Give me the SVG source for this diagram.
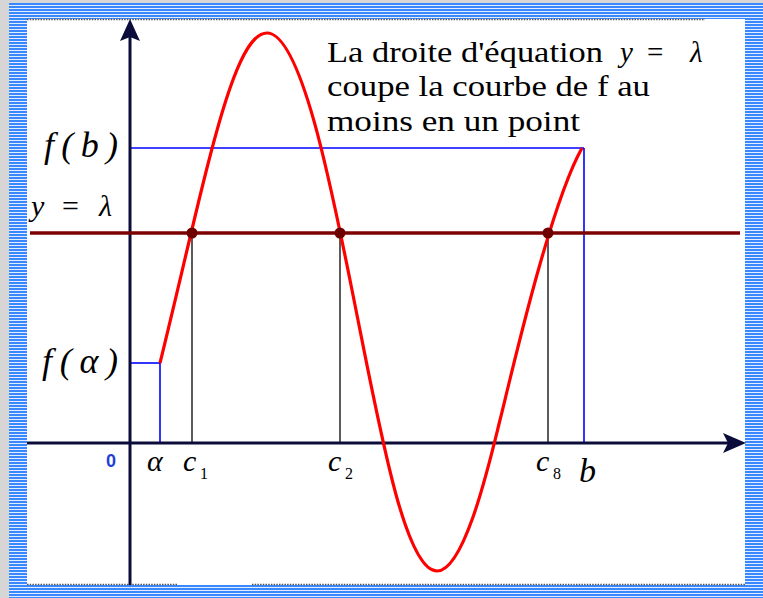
<svg xmlns="http://www.w3.org/2000/svg" width="763" height="598" viewBox="0 0 763 598">
<defs>
<pattern id="stripes" x="0" y="0" width="6" height="3" patternUnits="userSpaceOnUse">
<rect width="6" height="3" fill="#e2ecff"/>
<rect width="6" height="2" fill="#3a88ff"/>
</pattern>
<style>
.axis{stroke:#0c0c3a;stroke-width:3;fill:none}
.arrow{fill:#0c0c3a}
.blue{stroke:#0000ff;stroke-width:1.6;fill:none}
.drop{stroke:#333;stroke-width:1.6;fill:none}
.lam{stroke:#7d0000;stroke-width:3.5;fill:none}
.dot{fill:#6e0000}
.curve{stroke:#ff0000;stroke-width:3.2;fill:none;stroke-linejoin:round}
.dotted{stroke:#555;stroke-width:1.5;stroke-dasharray:1.5 1.2;fill:none}
.m{font-family:"Liberation Serif","DejaVu Serif",serif;font-style:italic;fill:#000}
.r{font-family:"Liberation Serif","DejaVu Serif",serif;font-style:normal;fill:#000}
.t{font-family:"Liberation Serif","DejaVu Serif",serif;font-size:29px;fill:#000}
.zero{font-family:"Liberation Sans",Arial,sans-serif;font-weight:bold;font-size:18px;fill:#1f3fd8}
</style>
</defs>
<g id="frame">
<rect x="0" y="0" width="763" height="598" fill="#d6d6d6"/>
<rect x="9" y="3" width="754" height="595" fill="url(#stripes)"/>
<rect x="27" y="19" width="718" height="566" fill="#ffffff"/>
<line class="dotted" x1="27" y1="19.5" x2="705" y2="19.5"/>
<line class="dotted" x1="27" y1="584.5" x2="177" y2="584.5"/>
<line class="dotted" x1="252" y1="584.5" x2="745" y2="584.5"/>
</g>
<g id="connectors">
<line class="blue" x1="130" y1="148" x2="584" y2="148"/>
<line class="blue" x1="584" y1="148" x2="584" y2="443"/>
<line class="blue" x1="130" y1="363" x2="160" y2="363"/>
<line class="blue" x1="160" y1="363" x2="160" y2="443"/>
<line class="drop" x1="192" y1="233" x2="192" y2="443"/>
<line class="drop" x1="340" y1="233" x2="340" y2="443"/>
<line class="drop" x1="548" y1="233" x2="548" y2="443"/>
<line class="axis" x1="130" y1="36" x2="130" y2="585"/>
<polygon class="arrow" points="130,19 140,41 130,37 120,41"/>
<line class="axis" x1="27" y1="443" x2="730" y2="443"/>
<polygon class="arrow" points="746,443 723,453 728,443 723,433"/>
<line class="lam" x1="30" y1="233" x2="740" y2="233"/>
<path id="curve" class="curve" d="M160,363 C205,180 232,33 267,33 C302,33 333,195 355,305 C380,430 405,571 437,571 C465,571 490,460 500,420 C512,372 550,205 582,148"/>
<circle class="dot" cx="192" cy="233" r="5.5"/>
<circle class="dot" cx="340" cy="233" r="5.5"/>
<circle class="dot" cx="548" cy="233" r="5.5"/>
</g>
<g id="caption">
<text class="t" x="327" y="62" textLength="276" lengthAdjust="spacingAndGlyphs">La droite d'équation</text>
<text class="m" x="620" y="62" font-size="29">y</text>
<text class="t" x="647" y="62">=</text>
<text class="m" x="690" y="62" font-size="29">λ</text>
<text class="t" x="327" y="96" textLength="323" lengthAdjust="spacingAndGlyphs">coupe la courbe de f au</text>
<text class="t" x="327" y="131" textLength="253" lengthAdjust="spacingAndGlyphs">moins en un point</text>
</g>
<g id="labels">
<text class="m" x="44" y="157" font-size="36" textLength="74" lengthAdjust="spacing">f(b)</text>
<text class="m" x="31" y="216" font-size="30">y</text>
<text class="r" x="62" y="216" font-size="30">=</text>
<text class="m" x="99" y="216" font-size="30">λ</text>
<text class="m" x="42" y="373" font-size="36" textLength="76" lengthAdjust="spacing">f(α)</text>
<text class="zero" x="106" y="467">0</text>
<text class="m" x="147" y="471" font-size="30">α</text>
<text class="m" x="183" y="471" font-size="30">c</text>
<text class="r" x="200" y="479" font-size="16">1</text>
<text class="m" x="328" y="471" font-size="30">c</text>
<text class="r" x="345" y="479" font-size="16">2</text>
<text class="m" x="536" y="471" font-size="30">c</text>
<text class="r" x="553" y="479" font-size="16">8</text>
<text class="m" x="579" y="482" font-size="34">b</text>
</g>
</svg>
